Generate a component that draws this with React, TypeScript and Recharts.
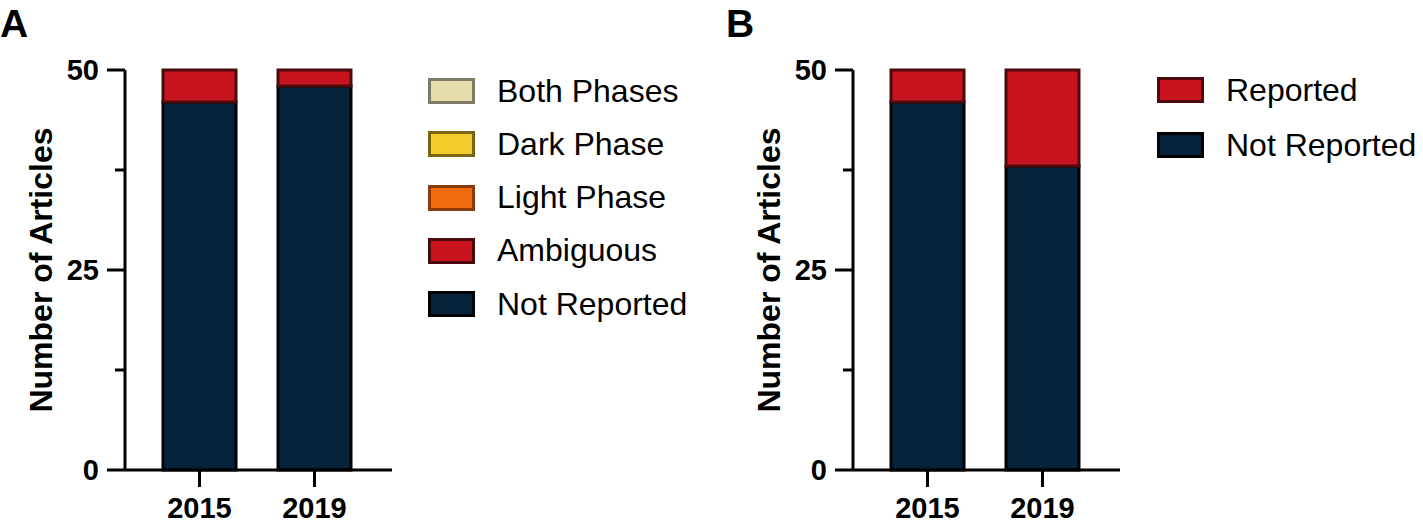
import { BarChart, Bar, XAxis, YAxis } from 'recharts';

const years = ['2015', '2019'];

// panel A: lighting phase of testing
const notReportedA = [46, 48];
const ambiguousA = [4, 2];
const lightPhaseA = [0, 0];
const darkPhaseA = [0, 0];
const bothPhasesA = [0, 0];

// panel B: reported or not
const notReportedB = [46, 38];
const reportedB = [4, 12];

const yTicks = [0, 12.5, 25, 37.5, 50];
const majorTicks = [0, 25, 50];

const FONT = '"Liberation Sans", Arial, Helvetica, sans-serif';

const seriesA = [
    { key: 'notReported', name: 'Not Reported', values: notReportedA, fill: '#05233a', stroke: '#000000' },
    { key: 'ambiguous', name: 'Ambiguous', values: ambiguousA, fill: '#c8141f', stroke: '#4d0a0e' },
    { key: 'light', name: 'Light Phase', values: lightPhaseA, fill: '#f06a0e', stroke: '#8a3b0c' },
    { key: 'dark', name: 'Dark Phase', values: darkPhaseA, fill: '#f3cb2a', stroke: '#7a6414' },
    { key: 'both', name: 'Both Phases', values: bothPhasesA, fill: '#e6deaa', stroke: '#7d7a68' },
];

const seriesB = [
    { key: 'notReported', name: 'Not Reported', values: notReportedB, fill: '#05233a', stroke: '#000000' },
    { key: 'reported', name: 'Reported', values: reportedB, fill: '#c8141f', stroke: '#4d0a0e' },
];

type Series = typeof seriesA;

const buildData = (series: Series) =>
    years.map((year, i) => {
        const row: Record<string, string | number> = { year };
        series.forEach(s => { row[s.key] = s.values[i]; });
        return row;
    });

const YTick = (props: any) => {
    const { x, y, payload } = props;
    const major = majorTicks.includes(payload.value);
    return (
        <g>
            <line x1={x - (major ? 18 : 10)} x2={x} y1={y} y2={y} stroke="#000" strokeWidth={3} />
            {major && (
                <text x={x - 26} y={y} dy="0.36em" textAnchor="end" fontFamily={FONT} fontWeight="bold" fontSize={29} fill="#000">
                    {payload.value}
                </text>
            )}
        </g>
    );
};

const XTick = (props: any) => {
    const { x, y, payload } = props;
    return (
        <g>
            <line x1={x} x2={x} y1={y} y2={y + 17} stroke="#000" strokeWidth={3} />
            <text x={x} y={y + 48} textAnchor="middle" fontFamily={FONT} fontWeight="bold" fontSize={29} fill="#000">
                {payload.value}
            </text>
        </g>
    );
};

const YLabel = (props: any) => {
    const { viewBox } = props;
    const cx = viewBox.x + 40;
    const cy = viewBox.y + viewBox.height / 2;
    return (
        <text x={cx} y={cy} transform={`rotate(-90 ${cx} ${cy})`} dy="0.36em" textAnchor="middle"
            fontFamily={FONT} fontWeight="bold" fontSize={32} fill="#000">
            Number of Articles
        </text>
    );
};

const Panel = ({ series }: { series: Series }) => (
    <BarChart width={400} height={523} data={buildData(series)} margin={{ top: 70, right: 8, bottom: 0, left: 0 }}>
        <XAxis dataKey="year" tick={<XTick />} tickLine={false} tickSize={0} tickMargin={0}
            axisLine={{ stroke: '#000', strokeWidth: 3 }} padding={{ left: 17, right: 20 }} height={53} />
        <YAxis type="number" domain={[0, 50]} ticks={yTicks} interval={0} width={125} tick={<YTick />}
            tickLine={false} tickSize={0} tickMargin={0} axisLine={{ stroke: '#000', strokeWidth: 3 }}
            label={<YLabel />} />
        {series.map(s => (
            <Bar key={s.key} dataKey={s.key} name={s.name} stackId="a" fill={s.fill} stroke={s.stroke}
                strokeWidth={3} barSize={73} isAnimationActive={false} />
        ))}
    </BarChart>
);

const LegendBox = ({ series, left, top, gap }: { series: Series; left: number; top: number; gap: number }) => (
    <div style={{ position: 'absolute', left, top }}>
        {[...series].reverse().map((s, i) => (
            <div key={s.key} style={{ position: 'absolute', top: i * gap, left: 0, display: 'flex', alignItems: 'center', height: 40, whiteSpace: 'nowrap' }}>
                <div style={{ width: 41, height: 20, background: s.fill, border: `3px solid ${s.stroke}` }} />
                <span style={{ marginLeft: 22, fontFamily: FONT, fontSize: 32, color: '#000' }}>{s.name}</span>
            </div>
        ))}
    </div>
);

const PanelLetter = ({ text, left }: { text: string; left: number }) => (
    <div style={{ position: 'absolute', left, top: 2, fontFamily: FONT, fontWeight: 'bold', fontSize: 39, lineHeight: '44px' }}>
        {text}
    </div>
);

export default function App() {
    return (
        <div style={{ position: 'absolute', left: 0, top: 0, width: 1423, height: 523, background: '#fff', overflow: 'hidden' }}>
            <PanelLetter text="A" left={0} />
            <PanelLetter text="B" left={726} />
            <div style={{ position: 'absolute', left: 0, top: 0 }}>
                <Panel series={seriesA} />
            </div>
            <div style={{ position: 'absolute', left: 728, top: 0 }}>
                <Panel series={seriesB} />
            </div>
            <LegendBox series={seriesA} left={428} top={71} gap={53.3} />
            <LegendBox series={seriesB} left={1157} top={70} gap={55} />
        </div>
    );
}
